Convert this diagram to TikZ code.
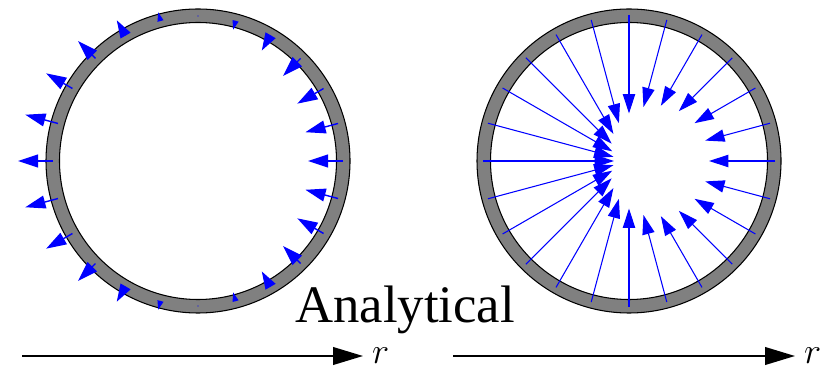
\documentclass[tikz,border=0pt]{standalone}
\usepackage{fontspec}
\setmainfont{Liberation Serif}
\usepackage{tikz}
\usetikzlibrary{arrows.meta,positioning}

\begin{document}
\begin{tikzpicture}[x=0.02cm, y=0.02cm,
  ring/.style={draw=black, line width=0.6pt, fill=gray, even odd rule},
  wallvec/.style={draw=blue, line width=0.8pt},
  flowvec/.style={draw=blue, line width=0.6pt,
                  -{Triangle[length=11pt, width=7pt, fill=blue]}},
  axis/.style={line width=1.1pt, -{Triangle[length=17pt, width=10pt]}},
  rlabel/.style={font=\fontsize{22}{26}\selectfont, anchor=base west,
                 inner sep=0pt, xshift=5pt, yshift=-4pt}]
  \useasboundingbox (0,0) rectangle (830,368);
  % Ring centres
  \coordinate (cl) at (198,207);
  \coordinate (cr) at (629,207);
  % Tube walls (grey annulus)
  \path[ring] (cl) circle[radius=152] (cl) circle[radius=138.5];
  \path[ring] (cr) circle[radius=152] (cr) circle[radius=138.5];
  % Left tube: wall displacement
  \begin{scope}[shift={(cl)}]
    \foreach \a in {0,15,...,345}{
      \pgfmathsetmacro{\len}{35*cos(\a)}
      \pgfmathsetmacro{\re}{145-\len}
      \pgfmathsetmacro{\hl}{11.5*min(1,abs(\len)/20)}
      \pgfmathsetmacro{\hw}{0.64*\hl}
      \coordinate (ws) at (\a:145);
      \coordinate (we) at (\a:\re);
      \ifdim\hl pt<0.5pt
        \fill[blue] (ws) circle[radius=0.6];
      \else
        \draw[wallvec, -{Triangle[length=\hl pt, width=\hw pt, fill=blue]}]
          (ws) -- (we);
      \fi
    }
  \end{scope}
  % Right tube: inward flow
  \begin{scope}[shift={(cr)}]
    \foreach \a in {0,15,...,345}{
      \pgfmathsetmacro{\re}{47.5+32.5*cos(\a)}
      \coordinate (fs) at (\a:146);
      \coordinate (fe) at (\a:\re);
      \draw[flowvec] (fs) -- (fe);
    }
  \end{scope}
  % Label
  \node[font=\fontsize{30}{36}\selectfont, anchor=base, inner sep=0pt]
    (title) at (405,46) {Analytical};
  % r axes
  \coordinate (la) at (22,12);
  \coordinate (lb) at (363,12);
  \coordinate (ra) at (453,12);
  \coordinate (rb) at (795,12);
  \draw[axis] (la) -- (lb);
  \draw[axis] (ra) -- (rb);
  \node[rlabel] (rl) at (lb) {$r$};
  \node[rlabel] (rr) at (rb) {$r$};
\end{tikzpicture}
\end{document}
